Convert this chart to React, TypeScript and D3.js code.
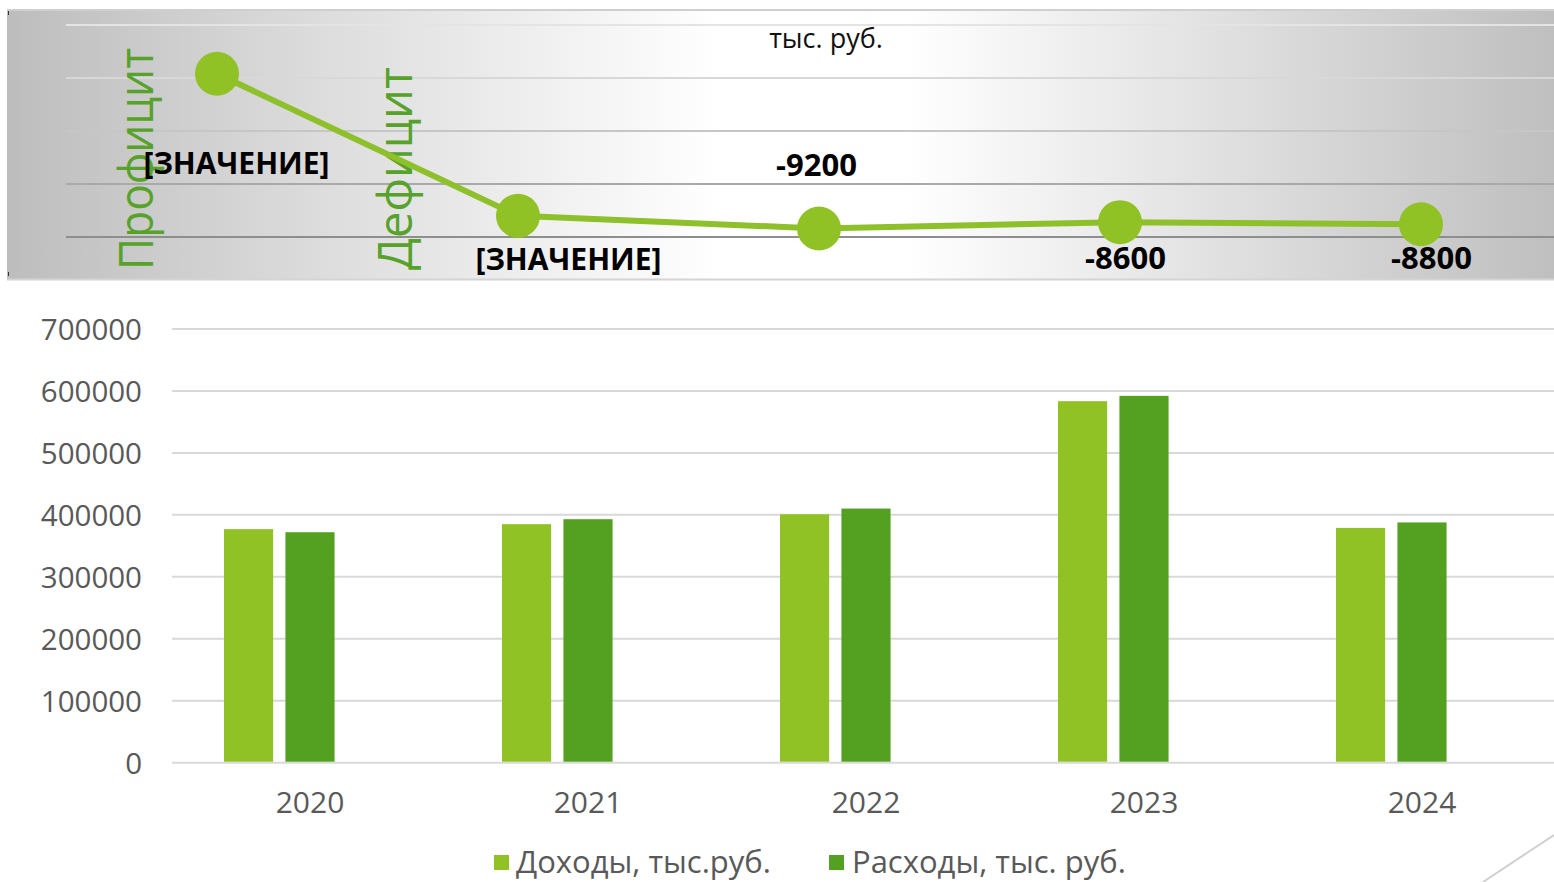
import React, { useEffect } from "react";
import * as d3 from "d3";

// ---- data ----
const years = ["2020", "2021", "2022", "2023", "2024"];
const incomes = [377000, 385000, 401000, 583500, 379000];
const expenses = [372000, 393000, 410200, 592100, 387800];
const balance = [5400, -8000, -9200, -8600, -8800];
const balanceLabels = ["[ЗНАЧЕНИЕ]", "[ЗНАЧЕНИЕ]", "-9200", "-8600", "-8800"];
const seriesKeys = ["incomes", "expenses", "balance"];
const seriesNames = ["Доходы, тыс.руб.", "Расходы, тыс. руб."];
const yTicks = [0, 100000, 200000, 300000, 400000, 500000, 600000, 700000];
const topGrid = [10000, 5000, 0, -5000, -10000];
const unitLabel = "тыс. руб.";
const sideLabels = ["Профицит", "Дефицит"];

// ---- layout (not data) ----
const W = 1554;
const H = 882;
const labelOffsets = [
  [19.5, 100],
  [50.5, 54],
  [-2.5, -53],
  [5.5, 47],
  [10.5, 45],
];
const topGridColors = ["#e4e4e4", "#d8d8d8", "#c6c6c6", "#a9a9a9", "#8e8e8e"];
const C_INC = "#90c226";
const C_EXP = "#54a021";
const C_LINE = "#8dc02a";
const C_TEXT = "#595959";
const C_SIDE = "#56a22a";
const FONT = "'Open Sans', 'Noto Sans', sans-serif";

export default function App() {
  useEffect(() => {
    document.body.style.margin = "0";
    document.body.style.overflow = "hidden";
  }, []);

  // top line panel scales
  const xTop = d3.scaleBand<string>().domain(years).range([66.5, 1571.5]);
  const yTop = d3.scaleLinear().domain([-10000, 10000]).range([237, 25]);
  const cx = (i: number) => (xTop(years[i]) as number) + xTop.bandwidth() / 2;
  const linePath = d3
    .line<number>()
    .x((_, i) => cx(i))
    .y((d) => yTop(d))(balance) as string;

  // bottom bar chart scales
  const x0 = d3.scaleBand<string>().domain(years).range([171, 1561]);
  const x1 = d3
    .scaleBand<string>()
    .domain(seriesKeys)
    .range([53, 225])
    .paddingInner(0.2)
    .paddingOuter(0);
  const y = d3.scaleLinear().domain([0, 700000]).range([762.7, 329]);

  const bars: { key: string; vals: number[]; color: string }[] = [
    { key: "incomes", vals: incomes, color: C_INC },
    { key: "expenses", vals: expenses, color: C_EXP },
  ];

  return (
    <svg
      width={W}
      height={H}
      viewBox={`0 0 ${W} ${H}`}
      style={{ position: "absolute", left: 0, top: 0, background: "#fff" }}
    >
      <defs>
        <linearGradient id="panelGrad" x1="0" y1="0" x2="1" y2="0">
          <stop offset="0" stopColor="#bdbdbd" />
          <stop offset="0.2" stopColor="#dcdcdc" />
          <stop offset="0.46" stopColor="#ffffff" />
          <stop offset="0.58" stopColor="#ffffff" />
          <stop offset="0.8" stopColor="#dedede" />
          <stop offset="1" stopColor="#bfbfbf" />
        </linearGradient>
      </defs>

      {/* top panel background */}
      <rect x={7} y={10} width={W - 7} height={270} fill="url(#panelGrad)" />
      <line x1={7} x2={W} y1={10} y2={10} stroke="#cfcfcf" strokeWidth={2} />
      <line x1={7} x2={W} y1={279.5} y2={279.5} stroke="#d4d4d4" strokeWidth={2} />
      <line x1={8.5} x2={8.5} y1={11} y2={15} stroke="#333" strokeWidth={1} />
      <line x1={8.5} x2={8.5} y1={272} y2={276} stroke="#333" strokeWidth={1} />

      {/* top gridlines */}
      {topGrid.map((v, i) => (
        <line
          key={v}
          x1={66}
          x2={W}
          y1={yTop(v)}
          y2={yTop(v)}
          stroke={topGridColors[i]}
          strokeWidth={2}
        />
      ))}

      {/* unit */}
      <text x={826} y={48} textAnchor="middle" fontFamily={FONT} fontSize={27} fill="#111">
        {unitLabel}
      </text>

      {/* side labels */}
      <text
        transform={`translate(153,270) rotate(-90)`}
        fontFamily={FONT}
        fontSize={48}
        fill={C_SIDE}
        textLength={222}
        lengthAdjust="spacingAndGlyphs"
      >
        {sideLabels[0]}
      </text>
      <text
        transform={`translate(412,270) rotate(-90)`}
        fontFamily={FONT}
        fontSize={48}
        fill={C_SIDE}
        textLength={203}
        lengthAdjust="spacingAndGlyphs"
      >
        {sideLabels[1]}
      </text>

      {/* line + markers */}
      <path d={linePath} fill="none" stroke={C_LINE} strokeWidth={6} />
      {balance.map((v, i) => (
        <circle key={i} cx={cx(i)} cy={yTop(v)} r={22} fill={C_INC} />
      ))}
      {balance.map((v, i) => (
        <text
          key={"l" + i}
          x={cx(i) + labelOffsets[i][0]}
          y={yTop(v) + labelOffsets[i][1]}
          textAnchor="middle"
          fontFamily={FONT}
          fontWeight="bold"
          fontSize={i < 2 ? 30 : 31}
          fill="#000"
        >
          {balanceLabels[i]}
        </text>
      ))}

      {/* bottom gridlines + y labels */}
      {yTicks.map((t) => (
        <g key={t}>
          <line x1={172} x2={1561} y1={y(t)} y2={y(t)} stroke="#d9d9d9" strokeWidth={2} />
          <text
            x={142}
            y={y(t) + 11}
            textAnchor="end"
            fontFamily={FONT}
            fontSize={29.5}
            fill={C_TEXT}
          >
            {t}
          </text>
        </g>
      ))}

      {/* bars */}
      {bars.map((s) =>
        years.map((yr, i) => (
          <rect
            key={s.key + yr}
            x={(x0(yr) as number) + (x1(s.key) as number)}
            y={y(s.vals[i])}
            width={x1.bandwidth()}
            height={y(0) - y(s.vals[i]) - 1}
            fill={s.color}
          />
        ))
      )}

      {/* x labels */}
      {years.map((yr) => (
        <text
          key={yr}
          x={(x0(yr) as number) + x0.bandwidth() / 2}
          y={813}
          textAnchor="middle"
          fontFamily={FONT}
          fontSize={30}
          fill={C_TEXT}
        >
          {yr}
        </text>
      ))}

      {/* legend */}
      <rect x={494} y={855} width={15} height={15} fill={C_INC} />
      <text x={516} y={873} fontFamily={FONT} fontSize={31} fill={C_TEXT}>
        {seriesNames[0]}
      </text>
      <rect x={829} y={855} width={15} height={15} fill={C_EXP} />
      <text x={852} y={873} fontFamily={FONT} fontSize={31} fill={C_TEXT}>
        {seriesNames[1]}
      </text>

      {/* decorative corner line */}
      <line x1={1483} y1={882} x2={1554} y2={835} stroke="#d0d0d0" strokeWidth={2} />
    </svg>
  );
}
